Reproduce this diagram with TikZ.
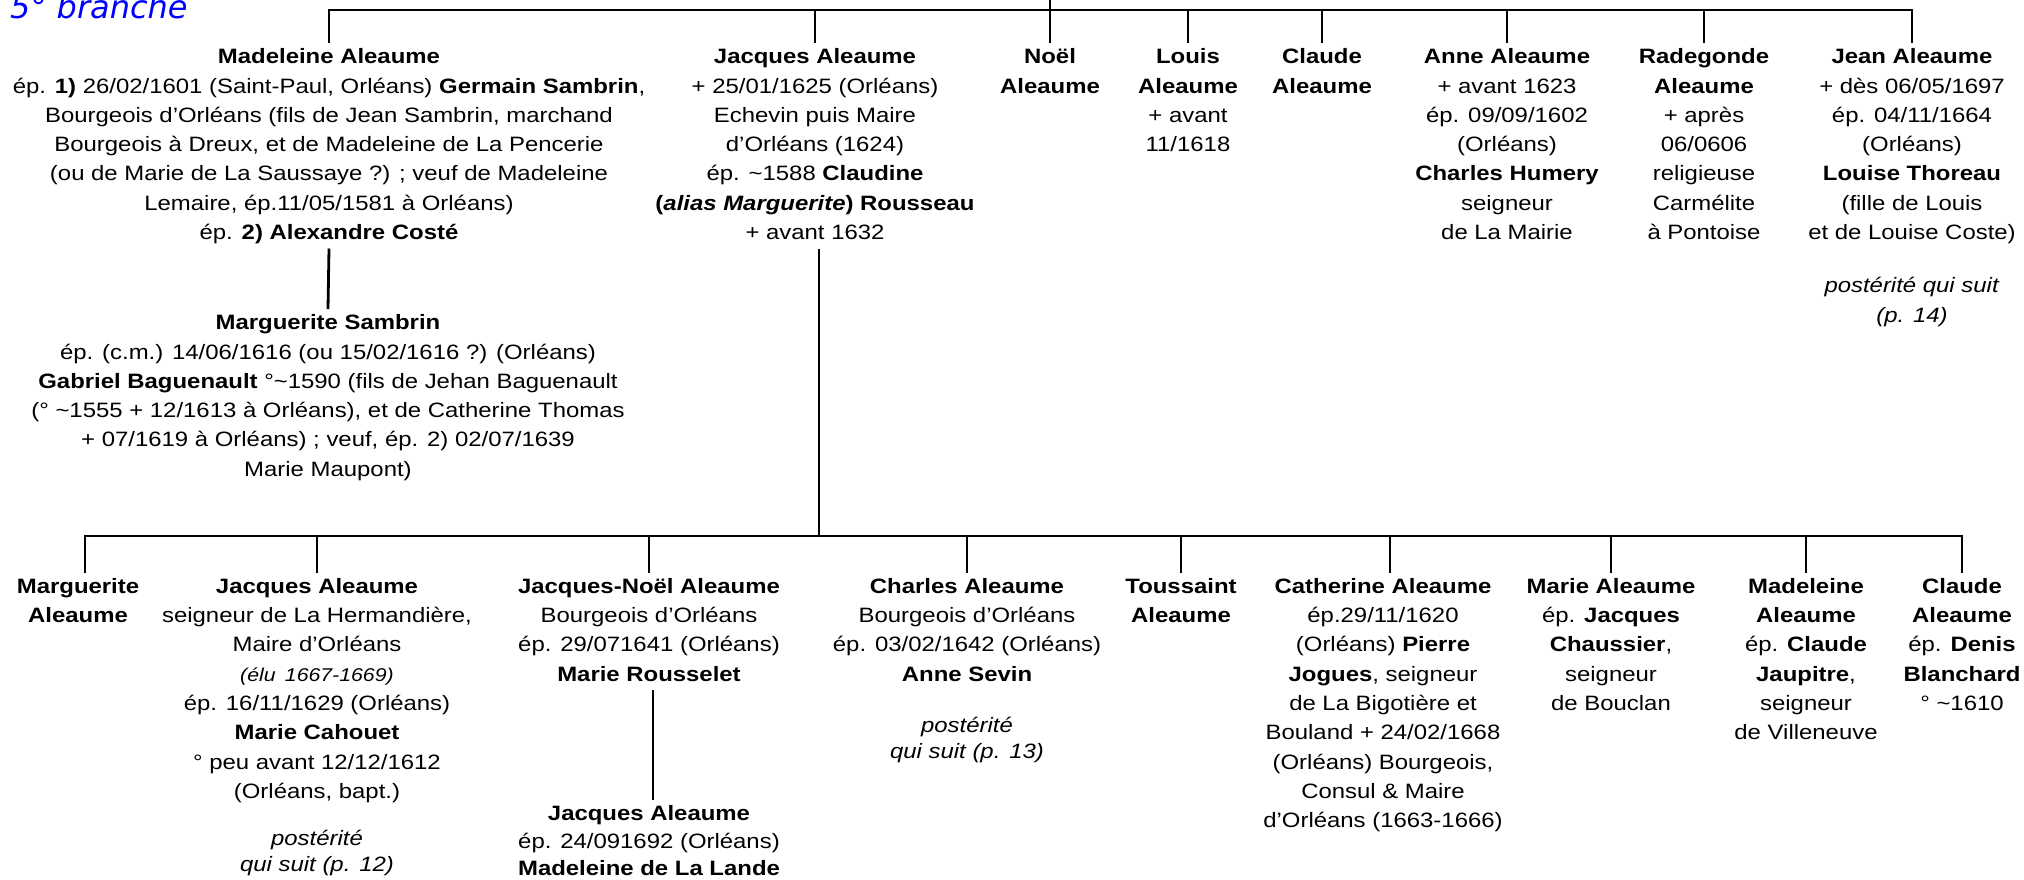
\documentclass[tikz,border=0pt]{standalone}
\usepackage{fontspec}
\setmainfont{Liberation Sans}[FakeStretch=1.15]
\newfontfamily\titlefont{DejaVu Sans}[ItalicFont={DejaVu Sans Oblique}]
\definecolor{titleblue}{RGB}{0,0,255}
\newcommand\pfont{\fontsize{20.8}{29.3}\selectfont}
\newcommand\tld{\textasciitilde}
\tikzset{
  person/.style={align=center, anchor=north, inner sep=0pt, font=\pfont},
  link/.style={line width=2.8pt},
}
\begin{document}
\begin{tikzpicture}[x=1pt,y=-1pt]
\useasboundingbox (0,0) rectangle (2024,879);

% title
\node[anchor=base west, inner sep=0pt, text=titleblue,
      font=\titlefont\itshape\fontsize{32}{36}\selectfont] (title) at (10,18.5) {5° branche};

% ---------- top generation ----------
\node[person] (mad) at (329,43) {\strut\textbf{Madeleine Aleaume}\\
 ép. \textbf{1)} 26/02/1601 (Saint-Paul, Orléans) \textbf{Germain Sambrin},\\
 Bourgeois d’Orléans (fils de Jean Sambrin, marchand\\
 Bourgeois à Dreux, et de Madeleine de La Pencerie\\
 (ou de Marie de La Saussaye ?) ; veuf de Madeleine\\
 Lemaire, ép.11/05/1581 à Orléans)\\
 ép. \textbf{2) Alexandre Costé}\strut};

\node[person] (jac) at (815,43) {\strut\textbf{Jacques Aleaume}\\
 + 25/01/1625 (Orléans)\\
 Echevin puis Maire\\
 d’Orléans (1624)\\
 ép. \tld1588 \textbf{Claudine}\\
 \textbf{(\textit{alias Marguerite}) Rousseau}\\
 + avant 1632\strut};

\node[person] (noel) at (1050,43) {\strut\textbf{Noël}\\ \textbf{Aleaume}\strut};
\node[person] (louis) at (1188,43) {\strut\textbf{Louis}\\ \textbf{Aleaume}\\ + avant\\ 11/1618\strut};
\node[person] (claudeA) at (1322,43) {\strut\textbf{Claude}\\ \textbf{Aleaume}\strut};
\node[person] (anne) at (1507,43) {\strut\textbf{Anne Aleaume}\\ + avant 1623\\ ép. 09/09/1602\\ (Orléans)\\ \textbf{Charles Humery}\\ seigneur\\ de La Mairie\strut};
\node[person] (rade) at (1704,43) {\strut\textbf{Radegonde}\\ \textbf{Aleaume}\\ + après\\ 06/0606\\ religieuse\\ Carmélite\\ à Pontoise\strut};
\node[person] (jean) at (1912,43) {\strut\textbf{Jean Aleaume}\\ + dès 06/05/1697\\ ép. 04/11/1664\\ (Orléans)\\ \textbf{Louise Thoreau}\\ (fille de Louis\\ et de Louise Coste)\\[24pt] \textit{postérité qui suit}\\ \textit{(p. 14)}\strut};

\node[person] (margS) at (328,309) {\strut\textbf{Marguerite Sambrin}\\
 ép. (c.m.) 14/06/1616 (ou 15/02/1616 ?) (Orléans)\\
 \textbf{Gabriel Baguenault} °\tld1590 (fils de Jehan Baguenault\\
 (° \tld1555 + 12/1613 à Orléans), et de Catherine Thomas\\
 + 07/1619 à Orléans) ; veuf, ép. 2) 02/07/1639\\
 Marie Maupont)\strut};

% ---------- bottom generation ----------
\node[person] (mA) at (78,572.5) {\strut\textbf{Marguerite}\\ \textbf{Aleaume}\strut};
\node[person] (jacB) at (317,572.5) {\strut\textbf{Jacques Aleaume}\\
 seigneur de La Hermandière,\\
 Maire d’Orléans\\
 {\fontsize{18.5}{29.3}\selectfont\itshape (élu\hspace{0.5em}1667-1669)}\\
 ép. 16/11/1629 (Orléans)\\
 \textbf{Marie Cahouet}\\
 ° peu avant 12/12/1612\\
 (Orléans, bapt.)\\[18pt]
 \textit{postérité}\\[-3pt]
 \textit{qui suit (p. 12)}\strut};
\node[person] (jn) at (649,572.5) {\strut\textbf{Jacques-Noël Aleaume}\\ Bourgeois d’Orléans\\ ép. 29/071641 (Orléans)\\ \textbf{Marie Rousselet}\strut};
\node[person] (jacC) at (649,799.5) {\strut\textbf{Jacques Aleaume}\\[-1.5pt] ép. 24/091692 (Orléans)\\[-1.5pt] \textbf{Madeleine de La Lande}\strut};
\node[person] (charles) at (967,572.5) {\strut\textbf{Charles Aleaume}\\ Bourgeois d’Orléans\\ ép. 03/02/1642 (Orléans)\\ \textbf{Anne Sevin}\\[22pt] \textit{postérité}\\[-3pt] \textit{qui suit (p. 13)}\strut};
\node[person] (tous) at (1181,572.5) {\strut\textbf{Toussaint}\\ \textbf{Aleaume}\strut};
\node[person] (cath) at (1383,572.5) {\strut\textbf{Catherine Aleaume}\\ ép.29/11/1620\\ (Orléans) \textbf{Pierre}\\ \textbf{Jogues}, seigneur\\ de La Bigotière et\\ Bouland + 24/02/1668\\ (Orléans) Bourgeois,\\ Consul \& Maire\\ d’Orléans (1663-1666)\strut};
\node[person] (marie) at (1611,572.5) {\strut\textbf{Marie Aleaume}\\ ép. \textbf{Jacques}\\ \textbf{Chaussier},\\ seigneur\\ de Bouclan\strut};
\node[person] (madB) at (1806,572.5) {\strut\textbf{Madeleine}\\ \textbf{Aleaume}\\ ép. \textbf{Claude}\\ \textbf{Jaupitre},\\ seigneur\\ de Villeneuve\strut};
\node[person] (claudeB) at (1962,572.5) {\strut\textbf{Claude}\\ \textbf{Aleaume}\\ ép. \textbf{Denis}\\ \textbf{Blanchard}\\ ° \tld1610\strut};

% ---------- connectors ----------
\coordinate (topbar) at (0,10);
\coordinate (parent) at (1050,-5);
\coordinate (botbar) at (0,536);
\coordinate (jacD) at ([xshift=4pt]jac.south);
\coordinate (mAd) at ([xshift=7pt]mA.north);
\coordinate (cathd) at ([xshift=7pt]cath.north);
\coordinate (jnd) at ([xshift=4pt]jn.south);
\coordinate (jacCd) at ([xshift=4pt]jacC.north);

\draw[link] (mad.north) -- (mad.north |- topbar) -- (jean.north |- topbar) -- (jean.north);
\foreach \n in {jac,louis,claudeA,anne,rade}
  \draw[link] (\n.north |- topbar) -- (\n.north);
\draw[link] (parent) -- (noel.north);
\draw[link] (mad.south) -- (margS.north);

\draw[link] (jacD) -- (jacD |- botbar);
\draw[link] (mAd) -- (mAd |- botbar) -- (claudeB.north |- botbar) -- (claudeB.north);
\foreach \n in {jacB,jn,charles,tous,marie,madB}
  \draw[link] (\n.north |- botbar) -- (\n.north);
\draw[link] (cathd |- botbar) -- (cathd);
\draw[link] (jnd) -- (jacCd);
\end{tikzpicture}
\end{document}
